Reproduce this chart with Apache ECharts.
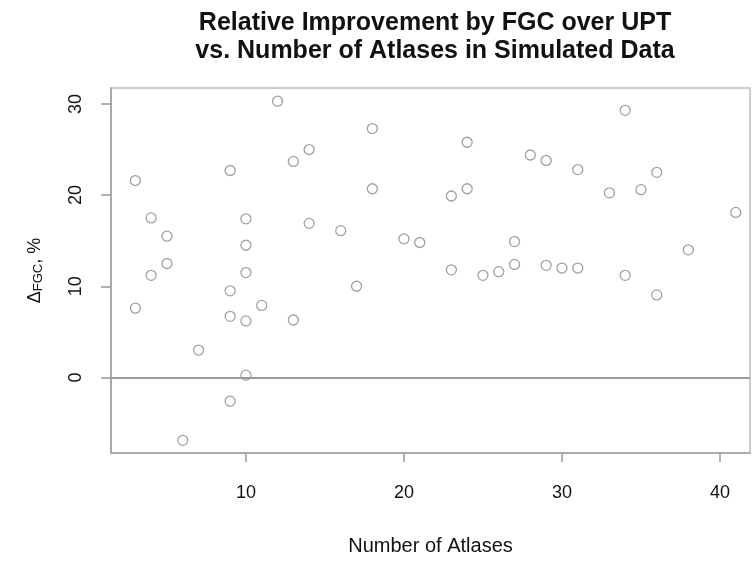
<!DOCTYPE html>
<html>
<head>
<meta charset="utf-8">
<script src="https://cdn.jsdelivr.net/npm/echarts@6/dist/echarts.min.js"></script>
<style>
  html, body { margin: 0; padding: 0; background: #fff; }
  #chart { width: 752px; height: 561px; }
</style>
</head>
<body>
<div id="chart"></div>
<script>
// number of atlases per simulated case
const atlases = [
  3, 3, 4, 4, 5, 5, 6, 7,
  9, 9, 9, 9,
  10, 10, 10, 10, 10,
  11, 12, 13, 13, 14, 14, 16, 17, 18, 18,
  20, 21, 23, 23, 24, 24, 25, 26, 27, 27,
  28, 29, 29, 30, 31, 31, 33, 34, 34, 35, 36, 36, 38, 41
];
// relative improvement, %
const improvement = [
  21.6, 7.6, 17.5, 11.2, 15.5, 12.5, -6.9, 3.0,
  22.7, 9.5, 6.7, -2.6,
  17.4, 14.5, 11.5, 6.2, 0.25,
  7.9, 30.3, 23.7, 6.3, 25.0, 16.9, 16.1, 10.0, 27.3, 20.7,
  15.2, 14.8, 19.9, 11.8, 25.8, 20.7, 11.2, 11.6, 14.9, 12.4,
  24.4, 23.8, 12.3, 12.0, 22.8, 12.0, 20.25, 29.3, 11.2, 20.6, 22.5, 9.05, 14.0, 18.1
];
const xTicks = [10, 20, 30, 40];
const yTicks = [0, 10, 20, 30];

const chart = echarts.init(document.getElementById('chart'));

const points = atlases.map((x, i) => [x, improvement[i]]);

chart.setOption({
  animation: false,
  title: {
    text: 'Relative Improvement by FGC over UPT\nvs. Number of Atlases in Simulated Data',
    left: 430,
    top: 4,
    textAlign: 'center',
    textStyle: {
      fontFamily: 'Liberation Sans',
      fontWeight: 'bold',
      fontSize: 25,
      lineHeight: 28,
      color: '#111'
    }
  },
  grid: {
    left: 111,
    right: 2,
    top: 88,
    bottom: 106,
    show: true,
    borderColor: '#cccccc',
    borderWidth: 2
  },
  xAxis: {
    type: 'value',
    min: 1.46,
    max: 41.9,
    name: 'Number of Atlases',
    nameLocation: 'middle',
    nameGap: 83,
    nameTextStyle: { fontFamily: 'Liberation Sans', fontSize: 20, color: '#111' },
    splitLine: { show: false },
    axisLine: { show: true, onZero: false, lineStyle: { color: '#aaaaaa', width: 2 } },
    axisTick: { show: true, length: 9, customValues: xTicks, lineStyle: { color: '#999', width: 1.5 } },
    axisLabel: {
      customValues: xTicks,
      margin: 31,
      fontFamily: 'Liberation Sans',
      fontSize: 18,
      color: '#111'
    }
  },
  yAxis: {
    type: 'value',
    min: -8.29,
    max: 31.75,
    name: '{a|Δ}{s|FGC}{a|, %}',
    nameLocation: 'middle',
    nameGap: 66,
    nameRotate: 90,
    nameTextStyle: {
      fontFamily: 'Liberation Sans',
      color: '#111',
      rich: {
        a: { fontFamily: 'Liberation Sans', fontSize: 18, color: '#111' },
        s: { fontFamily: 'Liberation Sans', fontSize: 13, color: '#111', verticalAlign: 'bottom', padding: [7, 0, 0, 0] }
      }
    },
    splitLine: { show: false },
    axisLine: { show: true, onZero: false, lineStyle: { color: '#aaaaaa', width: 2 } },
    axisTick: { show: true, length: 10, customValues: yTicks, lineStyle: { color: '#999', width: 1.5 } },
    axisLabel: {
      customValues: yTicks,
      rotate: 90,
      margin: 35,
      fontFamily: 'Liberation Sans',
      fontSize: 18,
      color: '#111',
      verticalAlign: 'middle',
      align: 'center'
    }
  },
  series: [
    {
      type: 'scatter',
      data: points,
      symbol: 'circle',
      symbolSize: 10,
      itemStyle: {
        color: 'rgba(0,0,0,0)',
        borderColor: '#8a8a8a',
        borderWidth: 1.3
      },
      markLine: {
        silent: true,
        symbol: 'none',
        label: { show: false },
        lineStyle: { color: '#999999', width: 2, type: 'solid' },
        data: [{ yAxis: 0 }]
      }
    }
  ]
});
</script>
</body>
</html>
